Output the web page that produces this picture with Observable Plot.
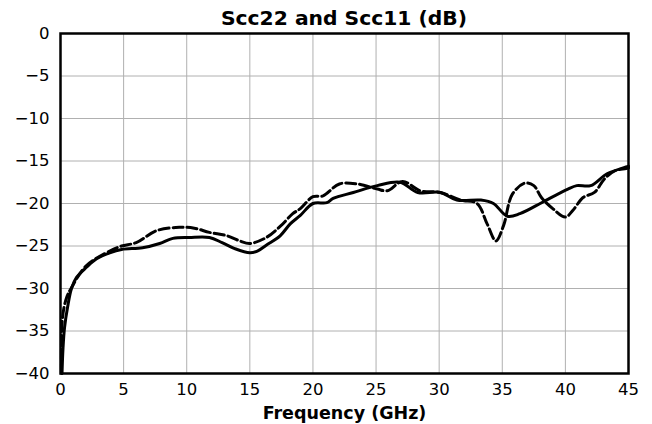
<!DOCTYPE html>
<html>
<head>
<meta charset="utf-8">
<script src="https://cdn.jsdelivr.net/npm/d3@7"></script>
<script src="https://cdn.jsdelivr.net/npm/@observablehq/plot@0.6"></script>
<style>
  html, body { margin: 0; padding: 0; background: white; }
  #title { width: 652px; height: 30px; box-sizing: border-box; padding-left: 60px; padding-right: 24px; white-space: nowrap;
           text-align: center; font-family: "DejaVu Sans"; font-weight: bold; font-size: 20.3px; line-height: 36px; color: black; }
</style>
</head>
<body>
<div id="title"></div>
<div id="chart"></div>
<script>
const titleText = "Scc22 and Scc11 (dB)";
const xLabel = "Frequency (GHz)";
const xTicks = [0, 5, 10, 15, 20, 25, 30, 35, 40, 45];
const yTicks = [0, -5, -10, -15, -20, -25, -30, -35, -40];

// Solid curve
const solidFreq = [0.12, 0.2, 0.32, 0.56, 0.87, 1.27, 2.06, 2.86, 3.9, 4.84, 6.5, 7.86, 8.9, 10.2, 11.8, 12.8, 13.8, 15.0, 15.6, 16.3, 17.4, 18.2, 19.0, 20.0, 21.1, 21.6, 23.2, 25.1, 26.9, 28.3, 30.1, 31.4, 33.3, 34.3, 35.4, 36.4, 38.0, 38.5, 40.2, 40.9, 42.0, 43.3, 44.8, 45.0];
const solidVal  = [-40, -37, -34.6, -32.2, -30.0, -28.7, -27.5, -26.5, -25.8, -25.4, -25.2, -24.7, -24.1, -24.0, -24.0, -24.6, -25.3, -25.8, -25.6, -24.9, -23.8, -22.4, -21.4, -20.0, -19.9, -19.4, -18.7, -17.9, -17.5, -18.7, -18.7, -19.6, -19.6, -20.0, -21.5, -21.2, -20.0, -19.6, -18.3, -17.9, -17.9, -16.5, -15.7, -15.6];

// Dashed curve
const dashFreq = [0.08, 0.16, 0.48, 0.87, 2.06, 3.9, 4.84, 6.0, 7.6, 9.4, 10.6, 11.8, 13.2, 14.2, 15.0, 16.3, 17.4, 18.4, 19.0, 20.0, 20.8, 22.1, 23.5, 25.1, 25.9, 27.1, 28.5, 30.1, 31.7, 33.0, 33.8, 34.5, 35.1, 35.8, 36.8, 37.5, 38.1, 39.0, 40.0, 40.6, 41.4, 42.3, 43.1, 44.0, 44.8, 45.0];
const dashVal  = [-40, -33.4, -31.1, -29.9, -27.3, -25.6, -25.0, -24.6, -23.2, -22.8, -22.9, -23.4, -23.8, -24.4, -24.7, -24.0, -22.7, -21.2, -20.6, -19.2, -19.1, -17.7, -17.7, -18.3, -18.5, -17.4, -18.5, -18.7, -19.6, -20.0, -22.4, -24.4, -22.6, -18.9, -17.6, -17.9, -19.3, -20.6, -21.6, -20.8, -19.3, -18.7, -17.1, -16.1, -15.9, -15.8];

document.getElementById("title").textContent = titleText;

const solid = solidFreq.map((f, i) => ({f, v: solidVal[i]}));
const dashed = dashFreq.map((f, i) => ({f, v: dashVal[i]}));

const fmt = d => d < 0 ? "\u2212" + Math.abs(d) : String(d);

const chart = Plot.plot({
  width: 652,
  height: 394,
  marginLeft: 60,
  marginRight: 24,
  marginTop: 3,
  marginBottom: 51,
  style: {fontFamily: "DejaVu Sans", fontSize: "16.5px", background: "white", color: "black", overflow: "visible"},
  x: {domain: [0, 45], ticks: xTicks},
  y: {domain: [-40, 0], ticks: yTicks},
  marks: [
    Plot.gridX(xTicks, {stroke: "#b0b0b0", strokeOpacity: 1, strokeWidth: 1}),
    Plot.gridY(yTicks, {stroke: "#b0b0b0", strokeOpacity: 1, strokeWidth: 1}),
    Plot.axisX(xTicks, {tickSize: 0, tickPadding: 10, tickFormat: fmt, label: null, fontSize: 16.5}),
    Plot.axisY(yTicks, {tickSize: 0, tickPadding: 11, tickFormat: fmt, label: null, fontSize: 16.5}),
    Plot.line(dashed, {x: "f", y: "v", stroke: "black", strokeWidth: 3, strokeDasharray: "10,4", curve: "catmull-rom"}),
    Plot.line(solid, {x: "f", y: "v", stroke: "black", strokeWidth: 3, curve: "catmull-rom"}),
    Plot.frame({stroke: "black", strokeWidth: 2.5}),
    Plot.text([xLabel], {frameAnchor: "bottom", dy: 40, fontWeight: "bold", fontSize: 17.5, fill: "black", lineAnchor: "middle"})
  ]
});
document.getElementById("chart").appendChild(chart);
</script>
</body>
</html>
